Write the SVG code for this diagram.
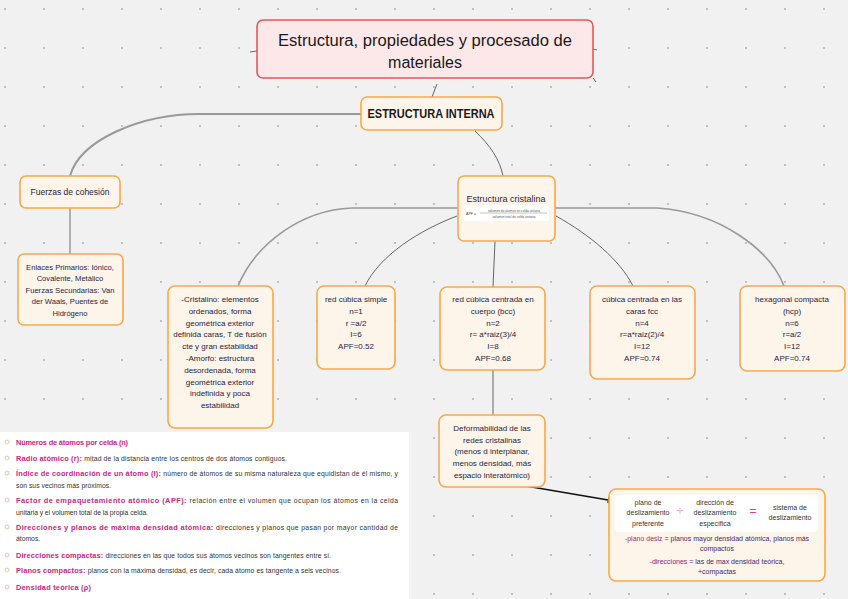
<svg xmlns="http://www.w3.org/2000/svg" width="848" height="599" viewBox="0 0 848 599">
<defs>
<pattern id="dots" x="0" y="8" width="39" height="39" patternUnits="userSpaceOnUse">
<circle cx="5" cy="1" r="1" fill="#9fb3bf"/>
</pattern>
<marker id="arr" viewBox="0 0 10 10" refX="9" refY="5" markerWidth="7" markerHeight="7" orient="auto" markerUnits="userSpaceOnUse">
<path d="M0,0 L10,5 L0,10 z" fill="#111"/>
</marker>
<style>
.node{fill:#fdf4ea;stroke:#f7a84a;stroke-width:1.6}
.t{font-family:"Liberation Sans",Arial,sans-serif;font-size:8px;fill:#2a2440;text-anchor:middle}
.c{fill:none;stroke:#666;stroke-width:1}
.ct{fill:none;stroke:#999;stroke-width:2}
.h{font-family:"Liberation Sans",Arial,sans-serif;font-size:7.4px;fill:#c8287e;font-weight:bold}
.d{font-family:"Liberation Sans",Arial,sans-serif;font-size:6.8px;fill:#333;font-weight:normal}
.b{fill:none;stroke:#f0b08a;stroke-width:0.8}
</style>
</defs>
<rect width="848" height="599" fill="#f1f1f1"/>
<rect width="848" height="599" fill="url(#dots)"/>

<g id="connectors">
<line class="c" x1="250" y1="52" x2="257" y2="51"/>
<line class="c" x1="593" y1="49" x2="597" y2="50"/>
<line class="c" x1="593" y1="78" x2="596" y2="82"/>
<path class="c" d="M437,84 L432,97"/>
<path class="ct" d="M361,114 L200,114 C140,114 80,140 70,176"/>
<path class="c" d="M475,131 C490,145 500,160 503,176"/>
<line class="ct" x1="70" y1="208" x2="70" y2="254" style="stroke-width:1.5"/>
<path class="ct" d="M458,208 L352,208 C300,210 255,245 238,286" style="stroke-width:1.6"/>
<path class="c" d="M457,216 C420,230 380,255 365,286"/>
<path class="c" d="M495,241 L493,287"/>
<path class="c" d="M556,216 C590,235 620,260 633,286"/>
<path class="ct" d="M554,208 L657,208 C720,212 770,250 784,286" style="stroke-width:1.6"/>
<line class="c" x1="493" y1="370" x2="493" y2="415"/>
<line x1="520" y1="485" x2="614" y2="501" stroke="#111" stroke-width="1.5" marker-end="url(#arr)"/>
</g>

<g id="root">
<rect x="257" y="20" width="336" height="58" rx="6" fill="#fde8e9" stroke="#e25a5a" stroke-width="1.6"/>
<text x="425" y="46" class="t" style="font-size:16px;fill:#1a1a1a" textLength="294" lengthAdjust="spacingAndGlyphs">Estructura, propiedades y procesado de</text>
<text x="425" y="68" class="t" style="font-size:16px;fill:#1a1a1a">materiales</text>
</g>

<g id="estructura-interna">
<rect class="node" x="361" y="97" width="141" height="33" rx="6"/>
<text x="431" y="118" class="t" style="font-size:12px;font-weight:bold;fill:#1a1a1a" textLength="127" lengthAdjust="spacingAndGlyphs">ESTRUCTURA INTERNA</text>
</g>

<g id="fuerzas">
<rect class="node" x="20" y="176" width="100" height="32" rx="6"/>
<text x="70" y="195" class="t" style="font-size:8.5px">Fuerzas de cohesión</text>
</g>

<g id="enlaces">
<rect class="node" x="18" y="254" width="105" height="71" rx="6"/>
<text class="t" style="font-size:7.6px"><tspan x="70" y="270">Enlaces Primarios: Iónico,</tspan><tspan x="70" y="281">Covalente, Metálico</tspan><tspan x="70" y="293">Fuerzas Secundarias: Van</tspan><tspan x="70" y="304">der Waals, Puentes de</tspan><tspan x="70" y="316">Hidrógeno</tspan></text>
</g>

<g id="cristalina">
<rect class="node" x="458" y="176" width="97" height="65" rx="6"/>
<text x="506" y="202" class="t" style="font-size:9px">Estructura cristalina</text>
<rect x="463" y="205" width="86" height="16" rx="3" fill="#ffffff"/>
<text x="466" y="214.5" style="font-family:'Liberation Sans',Arial,sans-serif;font-size:3.6px;fill:#444">APF =</text>
<text x="514" y="211.5" class="t" style="font-size:3.2px;fill:#555">volumen de átomos en celda unitaria</text>
<line x1="480" y1="213" x2="547" y2="213" stroke="#666" stroke-width="0.4"/>
<text x="514" y="217.5" class="t" style="font-size:3.2px;fill:#555">volumen total de celda unitaria</text>
</g>

<g id="cristalino-amorfo">
<rect class="node" x="168" y="286" width="105" height="142" rx="7"/>
<text class="t"><tspan x="220" y="302">-Cristalino: elementos</tspan><tspan x="220" y="314">ordenados, forma</tspan><tspan x="220" y="326">geométrica exterior</tspan><tspan x="220" y="337">definida caras, T de fusión</tspan><tspan x="220" y="349">cte y gran estabilidad</tspan><tspan x="220" y="361">-Amorfo: estructura</tspan><tspan x="220" y="373">desordenada, forma</tspan><tspan x="220" y="385">geométrica exterior</tspan><tspan x="220" y="396">indefinida y poca</tspan><tspan x="220" y="408">estabilidad</tspan></text>
</g>

<g id="cubica-simple">
<rect class="node" x="317" y="286" width="78" height="83" rx="7"/>
<text class="t"><tspan x="356" y="302">red cúbica simple</tspan><tspan x="356" y="314">n=1</tspan><tspan x="356" y="326">r =a/2</tspan><tspan x="356" y="337">I=6</tspan><tspan x="356" y="349">APF=0.52</tspan></text>
</g>

<g id="bcc">
<rect class="node" x="440" y="287" width="105" height="83" rx="7"/>
<text class="t"><tspan x="493" y="302">red cúbica centrada en</tspan><tspan x="493" y="314">cuerpo (bcc)</tspan><tspan x="493" y="326">n=2</tspan><tspan x="493" y="337">r= a*raiz(3)/4</tspan><tspan x="493" y="349">I=8</tspan><tspan x="493" y="361">APF=0.68</tspan></text>
</g>

<g id="fcc">
<rect class="node" x="590" y="286" width="105" height="93" rx="7"/>
<text class="t"><tspan x="642" y="302">cúbica centrada en las</tspan><tspan x="642" y="314">caras fcc</tspan><tspan x="642" y="326">n=4</tspan><tspan x="642" y="337">r=a*raiz(2)/4</tspan><tspan x="642" y="349">I=12</tspan><tspan x="642" y="361">APF=0.74</tspan></text>
</g>

<g id="hcp">
<rect class="node" x="740" y="286" width="105" height="85" rx="7"/>
<text class="t"><tspan x="792" y="302">hexagonal compacta</tspan><tspan x="792" y="314">(hcp)</tspan><tspan x="792" y="326">n=6</tspan><tspan x="792" y="337">r=a/2</tspan><tspan x="792" y="349">I=12</tspan><tspan x="792" y="361">APF=0.74</tspan></text>
</g>

<g id="deformabilidad">
<rect class="node" x="439" y="415" width="106" height="72" rx="7"/>
<text class="t"><tspan x="492" y="431">Deformabilidad de las</tspan><tspan x="492" y="443">redes cristalinas</tspan><tspan x="492" y="454">(menos d interplanar,</tspan><tspan x="492" y="466">menos densidad, más</tspan><tspan x="492" y="478">espacio interatómico)</tspan></text>
</g>

<g id="sistema-deslizamiento">
<rect class="node" x="609" y="489" width="216" height="92" rx="7"/>
<rect x="615" y="495" width="203" height="37" rx="4" fill="#ffffff"/>
<text class="t" style="font-size:7px;fill:#333"><tspan x="648" y="505">plano de</tspan><tspan x="648" y="515">deslizamiento</tspan><tspan x="648" y="526">preferente</tspan></text>
<text x="680" y="515" class="t" style="font-size:12px;fill:#f5a8cc">+</text>
<text class="t" style="font-size:7px;fill:#333"><tspan x="715" y="505">dirección de</tspan><tspan x="715" y="515">deslizamiento</tspan><tspan x="715" y="526">específica</tspan></text>
<text x="753" y="515" class="t" style="font-size:12px;fill:#e0408a">=</text>
<text class="t" style="font-size:7px;fill:#333"><tspan x="790" y="510">sistema de</tspan><tspan x="790" y="520">deslizamiento</tspan></text>
<text class="t" style="font-size:7px;fill:#4a2a6a"><tspan x="717" y="541"><tspan fill="#b03060">-plano deslz</tspan> = planos mayor densidad atómica, planos más</tspan><tspan x="717" y="551">compactos</tspan><tspan x="717" y="564"><tspan fill="#7a2a7a">-direcciones</tspan> = las de max densidad teórica,</tspan><tspan x="717" y="574">+compactas</tspan></text>
</g>

<g id="definiciones">
<rect x="0" y="432" width="409" height="167" fill="#ffffff"/>
<circle class="b" cx="7" cy="442" r="2"/>
<text x="16" y="445" class="h" textLength="112" lengthAdjust="spacing">Números de átomos por celda (n)</text>
<circle class="b" cx="7" cy="458" r="2"/>
<text x="16" y="461" class="h" textLength="271" lengthAdjust="spacing">Radio atómico (r): <tspan class="d">mitad de la distancia entre los centros de dos átomos contiguos.</tspan></text>
<circle class="b" cx="7" cy="473" r="2"/>
<text x="16" y="476" class="h" textLength="382" lengthAdjust="spacing">Índice de coordinación de un átomo (I): <tspan class="d">número de átomos de su misma naturaleza que equidistan de él mismo, y</tspan></text>
<text x="16" y="488" class="d" textLength="95" lengthAdjust="spacing">son sus vecinos más próximos.</text>
<circle class="b" cx="7" cy="500" r="2"/>
<text x="16" y="503" class="h" textLength="382" lengthAdjust="spacing">Factor de empaquetamiento atómico (APF): <tspan class="d">relación entre el volumen que ocupan los átomos en la celda</tspan></text>
<text x="16" y="515" class="d" textLength="132" lengthAdjust="spacing">unitaria y el volumen total de la propia celda.</text>
<circle class="b" cx="7" cy="527" r="2"/>
<text x="16" y="530" class="h" textLength="382" lengthAdjust="spacing">Direcciones y planos de máxima densidad atómica: <tspan class="d">direcciones y planos que pasan por mayor cantidad de</tspan></text>
<text x="16" y="541" class="d">átomos.</text>
<circle class="b" cx="7" cy="555" r="2"/>
<text x="16" y="558" class="h" textLength="315" lengthAdjust="spacing">Direcciones compactas: <tspan class="d">direcciones en las que todos sus átomos vecinos son tangentes entre sí.</tspan></text>
<circle class="b" cx="7" cy="570" r="2"/>
<text x="16" y="573" class="h" textLength="325" lengthAdjust="spacing">Planos compactos: <tspan class="d">planos con la máxima densidad, es decir, cada átomo es tangente a seis vecinos.</tspan></text>
<circle class="b" cx="7" cy="587" r="2"/>
<text x="16" y="590" class="h" textLength="75" lengthAdjust="spacing">Densidad teórica (ρ)</text>
</g>
</svg>
